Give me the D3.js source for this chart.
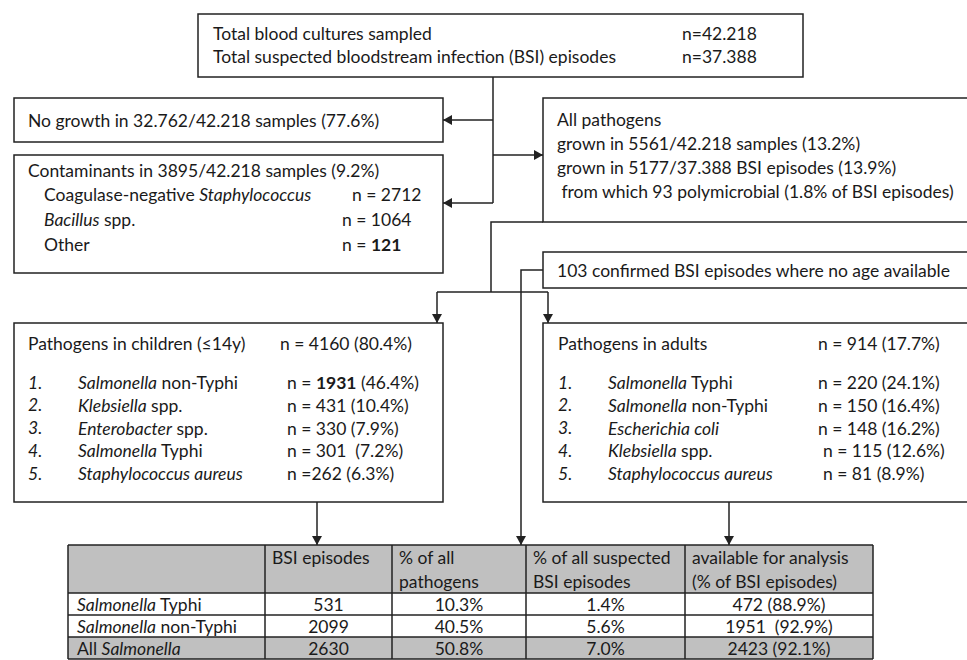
<!DOCTYPE html>
<html><head><meta charset="utf-8">
<script src="https://cdn.jsdelivr.net/npm/d3@7/dist/d3.min.js"></script>
<style>
body{margin:0;background:#fff}
svg{display:block}
text{font-family:Lato,"Open Sans",sans-serif;font-size:17.5px;fill:#1a1a1a;white-space:pre}
</style>
</head><body>
<svg id="c" width="967" height="660"></svg>
<script>
// ---------- data ----------
const totalsLabels = ["Total blood cultures sampled","Total suspected bloodstream infection (BSI) episodes"];
const totalsValues = ["n=42.218","n=37.388"];
const noGrowthText = "No growth in 32.762/42.218 samples (77.6%)";
const contaminantsTitle = "Contaminants in 3895/42.218 samples (9.2%)";
const contaminantNames = ["Coagulase-negative *Staphylococcus*","*Bacillus* spp.","Other"];
const contaminantCounts = ["n = 2712","n = 1064","n = **121**"];
const allPathogensLines = ["All pathogens","grown in 5561/42.218 samples (13.2%)","grown in 5177/37.388 BSI episodes (13.9%)"," from which 93 polymicrobial (1.8% of BSI episodes)"];
const noAgeText = "103 confirmed BSI episodes where no age available";
const childTitle = ["Pathogens in children (\u226414y)","n = 4160 (80.4%)"];
const childRanks = ["1.","2.","3.","4.","5."];
const childNames = ["*Salmonella* non-Typhi","*Klebsiella* spp.","*Enterobacter* spp.","*Salmonella* Typhi","*Staphylococcus aureus*"];
const childCounts = ["n = **1931** (46.4%)","n = 431 (10.4%)","n = 330 (7.9%)","n = 301  (7.2%)","n =262 (6.3%)"];
const adultTitle = ["Pathogens in adults","n = 914 (17.7%)"];
const adultRanks = ["1.","2.","3.","4.","5."];
const adultNames = ["*Salmonella* Typhi","*Salmonella* non-Typhi","*Escherichia coli*","*Klebsiella* spp.","*Staphylococcus aureus*"];
const adultCounts = ["n = 220 (24.1%)","n = 150 (16.4%)","n = 148 (16.2%)","n = 115 (12.6%)","n = 81 (8.9%)"];
const tableHeaders = [[""],["BSI episodes"],["% of all","pathogens"],["% of all suspected","BSI episodes"],["available for analysis","(% of BSI episodes)"]];
const rowLabels = ["*Salmonella* Typhi","*Salmonella* non-Typhi","All *Salmonella*"];
const bsiEpisodes = ["531","2099","2630"];
const pctPathogens = ["10.3%","40.5%","50.8%"];
const pctSuspected = ["1.4%","5.6%","7.0%"];
const availableAnalysis = ["472 (88.9%)","1951  (92.9%)","2423 (92.1%)"];
const rowShaded = [false,false,true];

// ---------- helpers ----------
const svg = d3.select("#c");
const LINE = "#222";
function rich(sel, str){
  const parts = str.split(/(\*\*[^*]+\*\*|\*[^*]+\*)/).filter(s=>s.length);
  parts.forEach(p=>{
    const t = sel.append("tspan");
    if(p.startsWith("**")) t.attr("font-weight","bold").text(p.slice(2,-2));
    else if(p.startsWith("*")) t.attr("font-style","italic").text(p.slice(1,-1));
    else t.text(p);
  });
  return sel;
}
function txt(x,y,str,anchor){
  const t = svg.append("text").attr("x",x).attr("y",y).attr("dominant-baseline","central")
    .attr("text-anchor",anchor||"start");
  return rich(t,str);
}
function box(x,y,w,h){
  svg.append("rect").attr("x",x).attr("y",y).attr("width",w).attr("height",h)
    .attr("fill","#fff").attr("stroke",LINE).attr("stroke-width",1.5);
}
function line(pts){
  svg.append("path").attr("d",d3.line()(pts)).attr("fill","none").attr("stroke",LINE).attr("stroke-width",1.5);
}
function head(x,y,dir){ // tip at x,y
  const s=5, l=9; let p;
  if(dir==="down") p=[[x,y],[x-s,y-l],[x+s,y-l]];
  if(dir==="left") p=[[x,y],[x+l,y-s],[x+l,y+s]];
  if(dir==="right") p=[[x,y],[x-l,y-s],[x-l,y+s]];
  svg.append("path").attr("d",d3.line()(p)+"Z").attr("fill",LINE);
}

// ---------- connectors ----------
line([[493,77],[493,203]]);
line([[493,120],[443,120]]); head(443,120,"left");
line([[493,203],[443,203]]); head(443,203,"left");
line([[493,155],[543,155]]); head(543,155,"right");
line([[543,222],[491,222],[491,292]]);
line([[437,292],[548,292]]);
line([[437,292],[437,323]]); head(437,323,"down");
line([[548,292],[548,323]]); head(548,323,"down");
line([[543,270],[521,270],[521,545]]); head(521,545,"down");
line([[317,502],[317,545]]); head(317,545,"down");
line([[729,502],[729,545]]); head(729,545,"down");

// ---------- boxes ----------
box(198,14,605,63);
totalsLabels.forEach((s,i)=>{ txt(213,33+i*23,s); txt(682,33+i*23,totalsValues[i]); });

box(14,98,429,44);
txt(28,120,noGrowthText);

box(14,155,429,118);
txt(28,170,contaminantsTitle);
contaminantNames.forEach((s,i)=>{ txt(44,194+i*25,s); txt(i===0?352:342,194+i*25,contaminantCounts[i]); });

box(543,98,440,124);
allPathogensLines.forEach((s,i)=>txt(557,119+i*24,s));

box(543,252,440,36);
txt(557,270,noAgeText);

box(14,323,429,179);
txt(28,343,childTitle[0]); txt(280,343,childTitle[1]);
childRanks.forEach((r,i)=>{
  const y=382+i*22.8;
  svg.append("text").attr("x",28).attr("y",y).attr("dominant-baseline","central").attr("font-style","italic").text(r);
  txt(78,y,childNames[i]); txt(287,y,childCounts[i]);
});

box(543,323,440,179);
txt(558,343,adultTitle[0]); txt(818,343,adultTitle[1]);
adultRanks.forEach((r,i)=>{
  const y=382+i*22.8;
  svg.append("text").attr("x",558).attr("y",y).attr("dominant-baseline","central").attr("font-style","italic").text(r);
  txt(608,y,adultNames[i]); txt(i>=3?823:818,y,adultCounts[i]);
});

// ---------- table ----------
const colEdges=[68,265,392,526,685,873];
const rowEdges=[545,593,615,637,659];
const yRow = d3.scaleBand().domain(d3.range(rowLabels.length)).range([593,659]).padding(0);
svg.append("rect").attr("x",colEdges[0]).attr("y",rowEdges[0]).attr("width",colEdges[5]-colEdges[0]).attr("height",rowEdges[1]-rowEdges[0]).attr("fill","#c0c0c0");
rowLabels.forEach((lab,i)=>{
  svg.append("rect").attr("x",colEdges[0]).attr("y",yRow(i)).attr("width",colEdges[5]-colEdges[0]).attr("height",yRow.bandwidth())
    .attr("fill",rowShaded[i]?"#c0c0c0":"#fff");
});
tableHeaders.forEach((h,j)=>{
  h.forEach((s,k)=>txt(colEdges[j]+7,557+k*24,s));
});
const cols=[bsiEpisodes,pctPathogens,pctSuspected,availableAnalysis];
rowLabels.forEach((lab,i)=>{
  const yc=yRow(i)+yRow.bandwidth()/2;
  txt(colEdges[0]+9,yc,lab);
  cols.forEach((c,j)=>txt((colEdges[j+1]+colEdges[j+2])/2,yc,c[i],"middle"));
});
rowEdges.forEach(y=>line([[colEdges[0],y],[colEdges[5],y]]));
colEdges.forEach(x=>line([[x,rowEdges[0]],[x,rowEdges[4]]]));
</script>
</body></html>
